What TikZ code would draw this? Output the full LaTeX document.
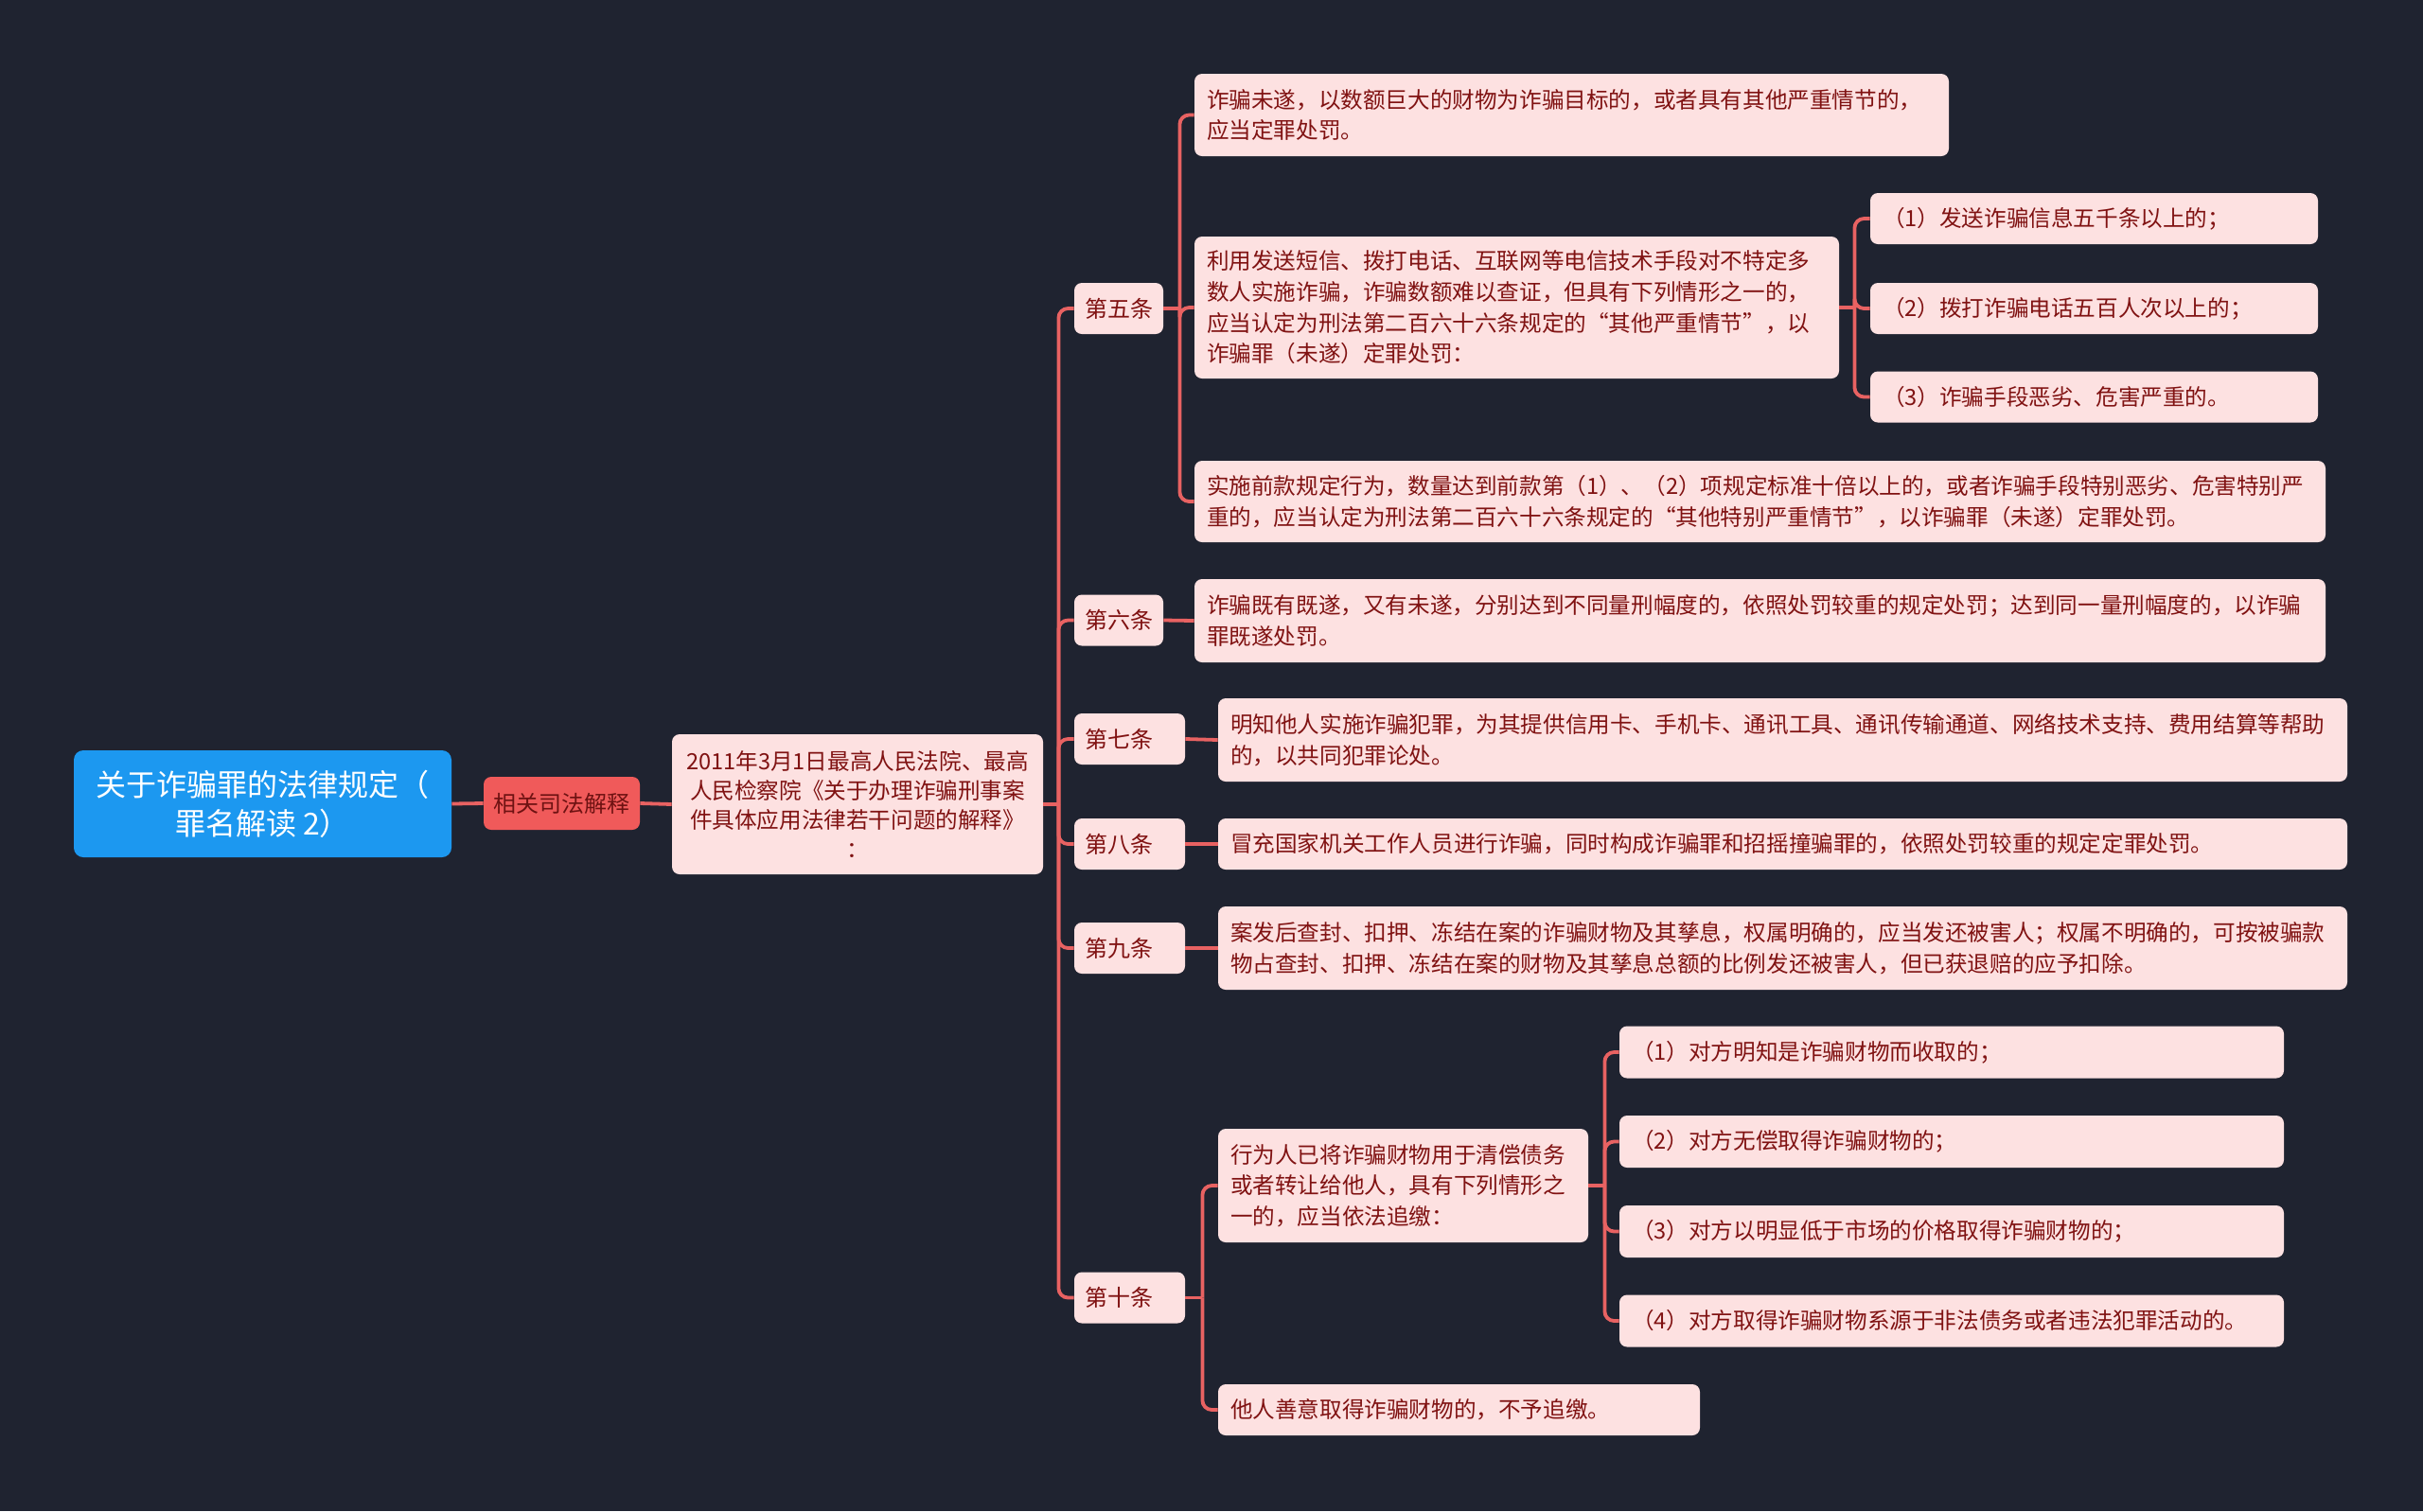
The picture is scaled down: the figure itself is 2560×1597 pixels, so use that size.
\documentclass[tikz,border=0pt]{standalone}
\usepackage{fontspec}
\setmainfont{Noto Sans CJK SC}
\definecolor{bgdark}{RGB}{31,35,48}
\definecolor{rootblue}{RGB}{28,152,240}
\definecolor{tagred}{RGB}{240,90,90}
\definecolor{tagtext}{RGB}{110,18,18}
\definecolor{leafpink}{RGB}{253,225,225}
\definecolor{leaftext}{RGB}{128,18,18}
\definecolor{linkred}{RGB}{232,98,98}

\begin{document}
\begin{tikzpicture}[x=0.5pt,y=-0.5pt,
  rootbox/.style={fill=rootblue,text=white,rounded corners=5pt,align=center,
    font=\fontsize{16}{20.5}\selectfont,minimum width=199.5pt,minimum height=56.5pt},
  tagbox/.style={fill=tagred,text=tagtext,rounded corners=4pt,inner sep=0pt,
    font=\fontsize{12}{16}\selectfont,minimum width=82.5pt,minimum height=28pt},
  lawbox/.style={fill=leafpink,text=leaftext,rounded corners=4pt,align=center,inner sep=0pt,
    font=\fontsize{11.8}{15.6}\selectfont,minimum width=196pt,minimum height=74pt},
  artbox/.style={fill=leafpink,text=leaftext,rounded corners=4pt,align=left,
    inner xsep=5.5pt,inner ysep=0pt,font=\fontsize{12}{16}\selectfont,minimum height=27pt},
  itembox/.style={fill=leafpink,text=leaftext,rounded corners=4pt,align=left,
    inner xsep=6.5pt,inner ysep=0pt,font=\fontsize{11.8}{16.3}\selectfont},
  link/.style={draw=linkred,line width=1.9pt,rounded corners=5pt}]
\fill[bgdark] (0,0) rectangle (2560,1597);
\useasboundingbox (0,0) rectangle (2560,1597);

\node[rootbox] (root) at (277.5,849.5) {关于诈骗罪的法律规定（\\罪名解读 2）};
\node[tagbox] (jieshi) at (593.5,849) {相关司法解释};
\node[lawbox] (law) at (906,850) {2011年3月1日最高人民法院、最高\\人民检察院《关于办理诈骗刑事案\\件具体应用法律若干问题的解释》\\：};

\node[artbox,text width=36pt] (a5) at (1182,326) {第五条};
\node[artbox,text width=36pt] (a6) at (1182,655.5) {第六条};
\node[artbox,text width=47.5pt] (a7) at (1193.5,781) {第七条};
\node[artbox,text width=47.5pt] (a8) at (1193.5,892) {第八条};
\node[artbox,text width=47.5pt] (a9) at (1193.5,1002) {第九条};
\node[artbox,text width=47.5pt] (a10) at (1193.5,1371.5) {第十条};

\node[itembox,text width=385.5pt,minimum height=43.5pt] (c51) at (1660.5,121.5)
  {诈骗未遂，以数额巨大的财物为诈骗目标的，或者具有其他严重情节的，\\应当定罪处罚。};
\node[itembox,text width=327.5pt,minimum height=75pt] (c52) at (1602.5,325)
  {利用发送短信、拨打电话、互联网等电信技术手段对不特定多\\数人实施诈骗，诈骗数额难以查证，但具有下列情形之一的，\\应当认定为刑法第二百六十六条规定的“其他严重情节”，以\\诈骗罪（未遂）定罪处罚：};
\node[itembox,text width=584.5pt,minimum height=43pt] (c53) at (1859.5,530)
  {实施前款规定行为，数量达到前款第（1）、（2）项规定标准十倍以上的，或者诈骗手段特别恶劣、危害特别严\\重的，应当认定为刑法第二百六十六条规定的“其他特别严重情节”，以诈骗罪（未遂）定罪处罚。};
\node[itembox,text width=223.5pt,minimum height=27pt] (s1) at (2212.5,231) {（1）发送诈骗信息五千条以上的；};
\node[itembox,text width=223.5pt,minimum height=27pt] (s2) at (2212.5,326) {（2）拨打诈骗电话五百人次以上的；};
\node[itembox,text width=223.5pt,minimum height=27pt] (s3) at (2212.5,419.5) {（3）诈骗手段恶劣、危害严重的。};

\node[itembox,text width=584.5pt,minimum height=44pt] (c6) at (1859.5,656)
  {诈骗既有既遂，又有未遂，分别达到不同量刑幅度的，依照处罚较重的规定处罚；达到同一量刑幅度的，以诈骗\\罪既遂处罚。};
\node[itembox,text width=583.5pt,minimum height=44pt] (c7) at (1883.5,782)
  {明知他人实施诈骗犯罪，为其提供信用卡、手机卡、通讯工具、通讯传输通道、网络技术支持、费用结算等帮助\\的，以共同犯罪论处。};
\node[itembox,text width=583.5pt,minimum height=27pt] (c8) at (1883.5,892)
  {冒充国家机关工作人员进行诈骗，同时构成诈骗罪和招摇撞骗罪的，依照处罚较重的规定定罪处罚。};
\node[itembox,text width=583.5pt,minimum height=44pt] (c9) at (1883.5,1002)
  {案发后查封、扣押、冻结在案的诈骗财物及其孳息，权属明确的，应当发还被害人；权属不明确的，可按被骗款\\物占查封、扣押、冻结在案的财物及其孳息总额的比例发还被害人，但已获退赔的应予扣除。};

\node[itembox,text width=182.5pt,minimum height=60pt] (c10a) at (1482.5,1253)
  {行为人已将诈骗财物用于清偿债务\\或者转让给他人，具有下列情形之\\一的，应当依法追缴：};
\node[itembox,text width=241.5pt,minimum height=27pt] (c10b) at (1541.5,1490) {他人善意取得诈骗财物的，不予追缴。};
\node[itembox,text width=338pt,minimum height=27.5pt] (t1) at (2062,1112) {（1）对方明知是诈骗财物而收取的；};
\node[itembox,text width=338pt,minimum height=27.5pt] (t2) at (2062,1206.5) {（2）对方无偿取得诈骗财物的；};
\node[itembox,text width=338pt,minimum height=27.5pt] (t3) at (2062,1301.5) {（3）对方以明显低于市场的价格取得诈骗财物的；};
\node[itembox,text width=338pt,minimum height=27.5pt] (t4) at (2062,1396) {（4）对方取得诈骗财物系源于非法债务或者违法犯罪活动的。};

\draw[link] (root.east) -- (jieshi.west);
\draw[link] (jieshi.east) -- (law.west);

\coordinate (b0) at ([xshift=8pt]law.east);
\draw[link] (law.east) -- (b0);
\draw[link] (b0) |- (a5.west);
\draw[link] (b0) |- (a6.west);
\draw[link] (b0) |- (a7.west);
\draw[link] (b0) |- (a8.west);
\draw[link] (b0) |- (a9.west);
\draw[link] (b0) |- (a10.west);

\coordinate (b5) at ([xshift=8.5pt]a5.east);
\draw[link] (a5.east) -- (b5);
\draw[link] (b5) |- (c51.west);
\draw[link] (b5) |- (c52.west);
\draw[link] (b5) |- (c53.west);

\coordinate (b52) at ([xshift=8pt]c52.east);
\draw[link] (c52.east) -- (b52);
\draw[link] (b52) |- (s1.west);
\draw[link] (b52) |- (s2.west);
\draw[link] (b52) |- (s3.west);

\draw[link] (a6.east) -- (c6.west);
\draw[link] (a7.east) -- (c7.west);
\draw[link] (a8.east) -- (c8.west);
\draw[link] (a9.east) -- (c9.west);

\coordinate (b10) at ([xshift=9pt]a10.east);
\draw[link] (a10.east) -- (b10);
\draw[link] (b10) |- (c10a.west);
\draw[link] (b10) |- (c10b.west);

\coordinate (b10a) at ([xshift=8.5pt]c10a.east);
\draw[link] (c10a.east) -- (b10a);
\draw[link] (b10a) |- (t1.west);
\draw[link] (b10a) |- (t2.west);
\draw[link] (b10a) |- (t3.west);
\draw[link] (b10a) |- (t4.west);
\end{tikzpicture}
\end{document}
